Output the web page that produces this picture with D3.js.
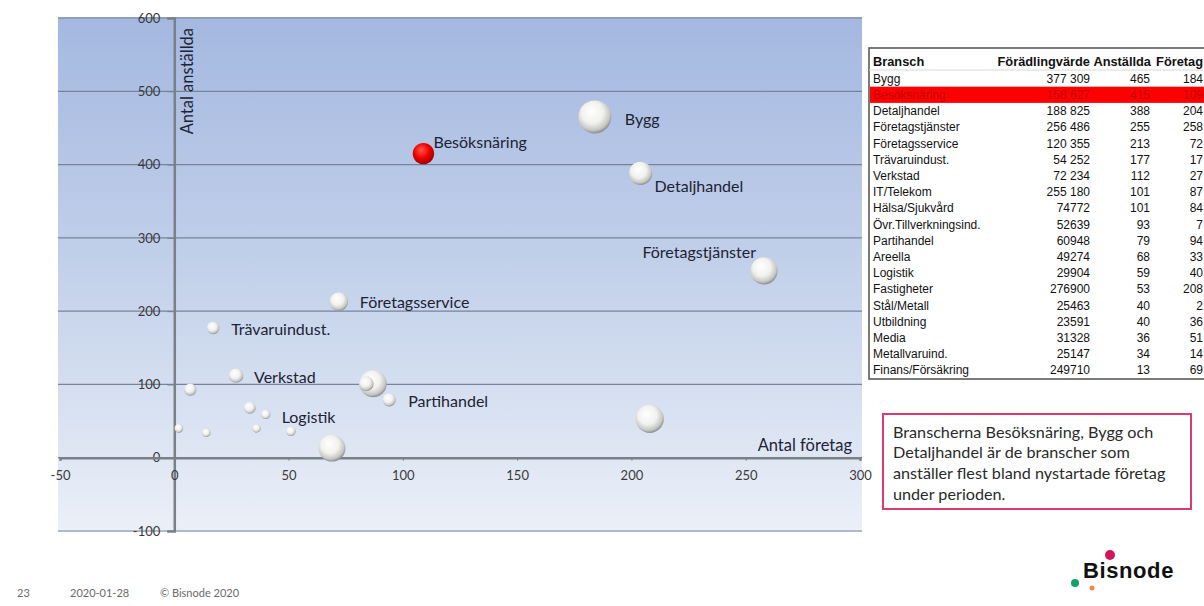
<!DOCTYPE html>
<html><head><meta charset="utf-8">
<script src="https://cdn.jsdelivr.net/npm/d3@7/dist/d3.min.js"></script>
<style>
body{margin:0;background:#fff;}
svg{display:block;}
</style></head>
<body>
<svg id="c" width="1204" height="606"></svg>
<script>
// ---------- DATA ----------
const branscher = ["Bygg","Besöksnäring","Detaljhandel","Företagstjänster","Företagsservice","Trävaruindust.","Verkstad","IT/Telekom","Hälsa/Sjukvård","Övr.Tillverkningsind.","Partihandel","Areella","Logistik","Fastigheter","Stål/Metall","Utbildning","Media","Metallvaruind.","Finans/Försäkring"];
const foradlingsvarde = [377309,158627,188825,256486,120355,54252,72234,255180,74772,52639,60948,49274,29904,276900,25463,23591,31328,25147,249710];
const foradlingsvardeText = ["377 309","158 627","188 825","256 486","120 355","54 252","72 234","255 180","74772","52639","60948","49274","29904","276900","25463","23591","31328","25147","249710"];
const anstallda = [465,415,388,255,213,177,112,101,101,93,79,68,59,53,40,40,36,34,13];
const foretag = [184,109,204,258,72,17,27,87,84,7,94,33,40,208,2,36,51,14,69];
const xTicks = [-50,0,50,100,150,200,250,300];
const yTicks = [-100,0,100,200,300,400,500,600];
const tableHeader = ["Bransch","Förädlingvärde","Anställda","Företag"];
const labelled = ["Bygg","Besöksnäring","Detaljhandel","Företagstjänster","Företagsservice","Trävaruindust.","Verkstad","Logistik","Partihandel"];
const highlight = "Besöksnäring";
const noteLines = ["Branscherna Besöksnäring, Bygg och","Detaljhandel är de branscher som","anställer flest bland nystartade företag","under perioden."];
const footer = ["23","2020-01-28","© Bisnode 2020"];

// ---------- LAYOUT / STYLE ----------
const labelPos = {
  "Bygg":[30,2,"start"],"Besöksnäring":[10,-11,"start"],"Detaljhandel":[14,13,"start"],
  "Företagstjänster":[-8,-18,"end"],"Företagsservice":[21,1,"start"],"Trävaruindust.":[18,1,"start"],
  "Verkstad":[18,2,"start"],"Logistik":[16,3,"start"],"Partihandel":[19,2,"start"]
};
const svg = d3.select("#c");
const font = "Lato, 'Open Sans', sans-serif";
const x = d3.scaleLinear().domain([-50,300]).range([60,860]);
const y = d3.scaleLinear().domain([-100,600]).range([531,18]);
const r = d3.scaleSqrt().domain([0,d3.max(foradlingsvarde)]).range([0,16.5]);

const defs = svg.append("defs");
const bg = defs.append("linearGradient").attr("id","bg").attr("x1",0).attr("y1",0).attr("x2",0).attr("y2",1);
bg.append("stop").attr("offset",0).attr("stop-color","#a4b8e0");
bg.append("stop").attr("offset",0.5).attr("stop-color","#c3d1ea");
bg.append("stop").attr("offset",1).attr("stop-color","#ebf0f8");
const gw = defs.append("radialGradient").attr("id","bw").attr("cx","45%").attr("cy","40%").attr("r","60%").attr("fx","38%").attr("fy","32%");
gw.append("stop").attr("offset",0).attr("stop-color","#ffffff");
gw.append("stop").attr("offset",0.55).attr("stop-color","#f1f1ee");
gw.append("stop").attr("offset",0.85).attr("stop-color","#c6c8c4");
gw.append("stop").attr("offset",1).attr("stop-color","#8a8e8c");
const gr = defs.append("radialGradient").attr("id","br").attr("cx","45%").attr("cy","40%").attr("r","60%").attr("fx","38%").attr("fy","32%");
gr.append("stop").attr("offset",0).attr("stop-color","#ff5a4a");
gr.append("stop").attr("offset",0.6).attr("stop-color","#ee0000");
gr.append("stop").attr("offset",1).attr("stop-color","#a00000");

// plot background
svg.append("rect").attr("x",x(-50)-2).attr("y",y(600)-1).attr("width",x(300)-x(-50)+4).attr("height",y(-100)-y(600)+2)
  .attr("fill","url(#bg)");

// gridlines
svg.append("g").selectAll("line").data(yTicks).join("line")
  .attr("x1",x(-50)-2).attr("x2",x(300)+2).attr("y1",d=>y(d)).attr("y2",d=>y(d))
  .attr("stroke","#76839c").attr("stroke-width",1.2);

// y axis
const yAxis = svg.append("g").attr("transform",`translate(${x(0)},0)`)
  .call(d3.axisLeft(y).tickValues(yTicks).tickFormat(d=>String(d)).tickSize(7).tickPadding(7));
yAxis.select(".domain").attr("stroke","#7b7f86").attr("stroke-width",2.5);
yAxis.selectAll(".tick line").attr("stroke","#7b7f86");
yAxis.selectAll("text").attr("font-family",font).attr("font-size",13).attr("fill","#3a3a3a");

// x axis
const xAxis = svg.append("g").attr("transform",`translate(0,${y(0)})`)
  .call(d3.axisBottom(x).tickValues(xTicks).tickFormat(d=>String(d)).tickSize(3).tickPadding(10));
xAxis.select(".domain").attr("stroke","#7b7f86").attr("stroke-width",2.5);
xAxis.selectAll(".tick line").attr("stroke","#7b7f86");
xAxis.selectAll("text").attr("font-family",font).attr("font-size",13).attr("fill","#3a3a3a");

// axis titles
svg.append("text").attr("transform",`translate(${x(0)+19},28) rotate(-90)`).attr("text-anchor","end")
  .attr("font-family",font).attr("font-size",16.5).attr("fill","#1d2333").text("Antal anställda");
svg.append("text").attr("x",852).attr("y",451).attr("text-anchor","end")
  .attr("font-family",font).attr("font-size",16.5).attr("fill","#1d2333").text("Antal företag");

// bubbles
const pts = branscher.map((b,i)=>({b,v:foradlingsvarde[i],a:anstallda[i],f:foretag[i]}))
  .sort((p,q)=>q.v-p.v);
svg.append("g").selectAll("circle").data(pts).join("circle")
  .attr("cx",d=>x(d.f)).attr("cy",d=>y(d.a)).attr("r",d=>r(d.v))
  .attr("fill",d=>d.b===highlight?"url(#br)":"url(#bw)");

// labels
svg.append("g").selectAll("text").data(pts.filter(d=>labelled.includes(d.b))).join("text")
  .attr("x",d=>x(d.f)+labelPos[d.b][0]).attr("y",d=>y(d.a)+labelPos[d.b][1])
  .attr("dy","0.35em").attr("text-anchor",d=>labelPos[d.b][2])
  .attr("font-family",font).attr("font-size",16).attr("fill","#1d2333").text(d=>d.b);

// ---------- TABLE ----------
const tf = "'Liberation Sans', Arial, sans-serif";
const tg = svg.append("g");
const rowH = 16.2, headY = 62, firstY = 78.5;
tg.append("rect").attr("x",869).attr("y",48).attr("width",340).attr("height",331)
  .attr("fill","#fff").attr("stroke","#5a5a5a").attr("stroke-width",1.6);
tg.append("line").attr("x1",869).attr("x2",1204).attr("y1",70).attr("y2",70).attr("stroke","#d8d8d8");
const hiIdx = branscher.indexOf(highlight);
tg.append("rect").attr("x",870).attr("y",firstY+hiIdx*rowH-8).attr("width",334).attr("height",rowH).attr("fill","#ff0000");
const colX = [873,1090,1150,1203], colA = ["start","end","end","end"];
tableHeader.forEach((h,j)=>{
  tg.append("text").attr("x",j==2?1151:colX[j]).attr("y",headY).attr("dy","0.35em").attr("text-anchor",colA[j])
    .attr("font-family",tf).attr("font-size",12.8).attr("font-weight","bold").attr("fill","#111").text(h);
});
branscher.forEach((b,i)=>{
  const vals=[b,foradlingsvardeText[i],anstallda[i],foretag[i]];
  vals.forEach((v,j)=>{
    tg.append("text").attr("x",colX[j]).attr("y",firstY+i*rowH).attr("dy","0.35em").attr("text-anchor",colA[j])
      .attr("font-family",tf).attr("font-size",12).attr("fill",b===highlight?"#c00000":"#111").text(v);
  });
});

// ---------- NOTE BOX ----------
svg.append("rect").attr("x",883).attr("y",414).attr("width",308).attr("height",95)
  .attr("fill","#fff").attr("stroke","#dc3a6c").attr("stroke-width",2);
svg.append("g").selectAll("text").data(noteLines).join("text")
  .attr("x",893).attr("y",(d,i)=>432+i*20.8).attr("dy","0.35em")
  .attr("font-family",font).attr("font-size",16.2).attr("fill","#2a2a2a").text(d=>d);

// ---------- FOOTER ----------
const fx=[17,70,160];
svg.append("g").selectAll("text").data(footer).join("text")
  .attr("x",(d,i)=>fx[i]).attr("y",593).attr("dy","0.35em")
  .attr("font-family",font).attr("font-size",11).attr("fill","#6a6a6a").text(d=>d);

// logo
svg.append("text").attr("x",1083).attr("y",578).attr("font-family",tf).attr("font-weight","bold")
  .attr("font-size",22).attr("letter-spacing",0.6).attr("fill","#111").text("Bisnode");
svg.append("circle").attr("cx",1110).attr("cy",555).attr("r",5).attr("fill","#d4145a");
svg.append("circle").attr("cx",1075).attr("cy",583).attr("r",4).attr("fill","#13a06c");
svg.append("circle").attr("cx",1092).attr("cy",588).attr("r",2.5).attr("fill","#f08a4b");
</script>
</body></html>
